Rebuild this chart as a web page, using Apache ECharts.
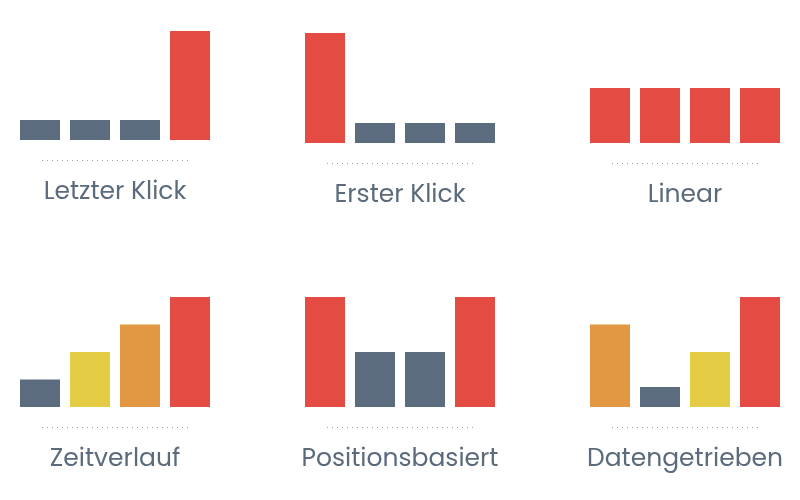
<!DOCTYPE html>
<html><head><meta charset="utf-8">
<script src="https://cdn.jsdelivr.net/npm/echarts@6/dist/echarts.min.js"></script>
<style>html,body{margin:0;padding:0;background:#fff}#c{width:800px;height:500px}</style>
</head><body><div id="c"></div>
<script>
const titles = ["Letzter Klick", "Erster Klick", "Linear", "Zeitverlauf", "Positionsbasiert", "Datengetrieben"];
const categories = ["1", "2", "3", "4"];
const values = [
  [0.73, 0.73, 0.73, 4],
  [4, 0.73, 0.73, 0.73],
  [2, 2, 2, 2],
  [1, 2, 3, 4],
  [4, 2, 2, 4],
  [3, 0.73, 2, 4]
];
const colorKeys = [
  ["g", "g", "g", "r"],
  ["r", "g", "g", "g"],
  ["r", "r", "r", "r"],
  ["g", "y", "o", "r"],
  ["r", "g", "g", "r"],
  ["o", "g", "y", "r"]
];
const palette = { g: "#5a6c7d", r: "#e44c43", y: "#e3cb44", o: "#e29843" };

// layout
const gridLeft = [15, 300, 585, 15, 300, 585];
const gridTop = [31, 33, 33, 297, 297, 297];
const gridH = [109, 110, 110, 110, 110, 110];
const lineY = [160, 163, 163, 427, 427, 427];
const labelY = [193, 196, 196, 460, 460, 460];

const chart = echarts.init(document.getElementById('c'));
const grids = [], xAxes = [], yAxes = [], series = [], graphics = [];
for (let i = 0; i < 6; i++) {
  grids.push({ left: gridLeft[i], top: gridTop[i], width: 200, height: gridH[i] });
  xAxes.push({ type: 'category', gridIndex: i, data: categories, show: false, boundaryGap: true });
  yAxes.push({ type: 'value', gridIndex: i, min: 0, max: 4, show: false });
  series.push({
    type: 'bar', xAxisIndex: i, yAxisIndex: i, barWidth: 40, silent: true,
    data: values[i].map((v, j) => ({ value: v, itemStyle: { color: palette[colorKeys[i][j]] } }))
  });
  const cx = gridLeft[i] + 100;
  graphics.push({
    type: 'line', shape: { x1: cx - 73, y1: lineY[i] + 0.5, x2: cx + 73, y2: lineY[i] + 0.5 },
    style: { stroke: '#9aa4ae', lineWidth: 1, lineDash: [1, 4] }
  });
  graphics.push({
    type: 'text', x: cx, y: labelY[i],
    style: { text: titles[i], fill: '#5b6b7c', font: '25px Poppins, "Open Sans", sans-serif', align: 'center', verticalAlign: 'middle' }
  });
}
chart.setOption({ animation: false, grid: grids, xAxis: xAxes, yAxis: yAxes, series: series, graphic: graphics });
</script></body></html>
